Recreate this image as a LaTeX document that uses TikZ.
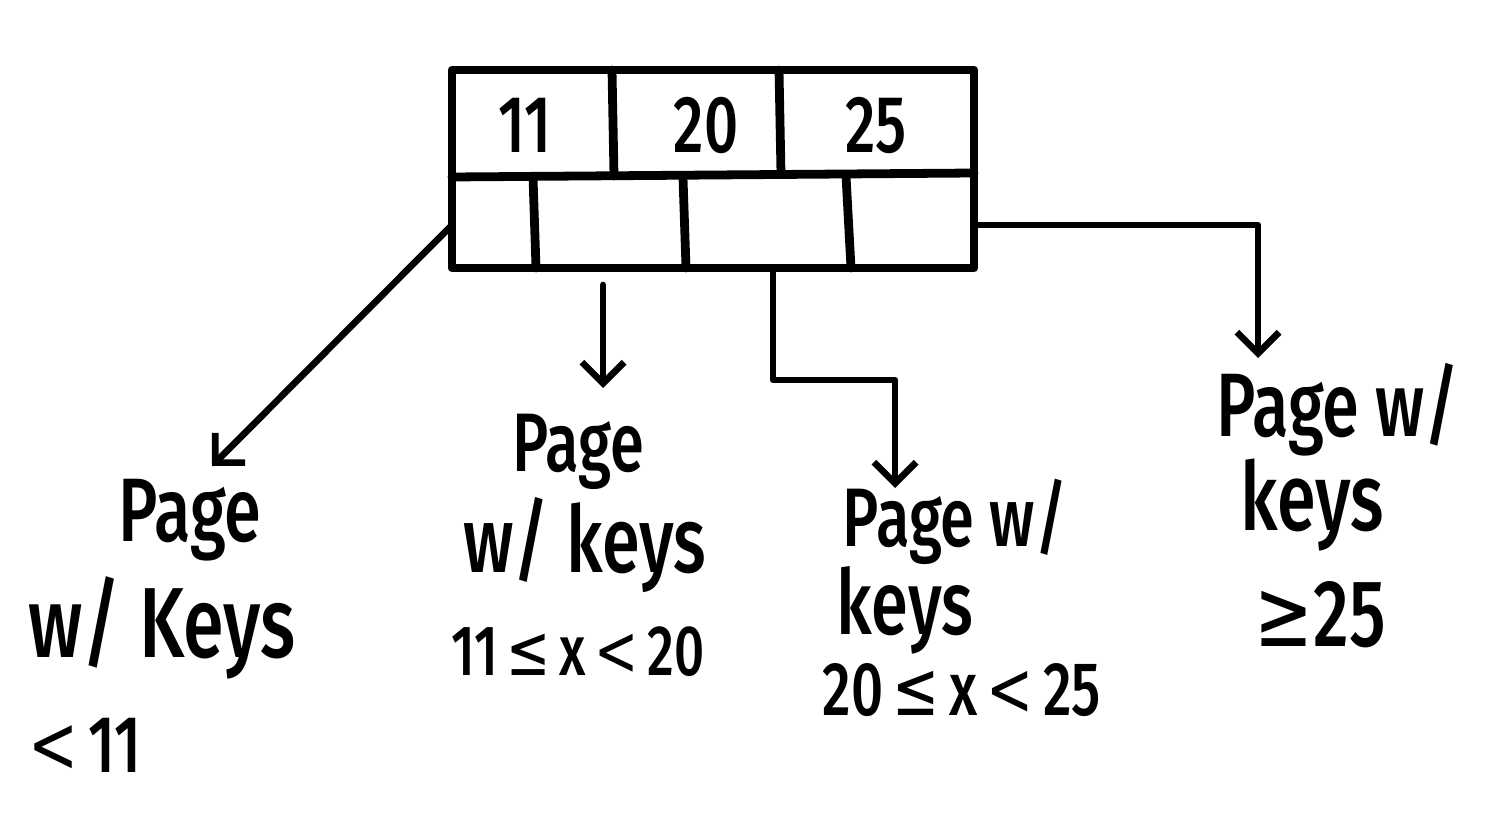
\documentclass[tikz,border=0pt]{standalone}
\usepackage{graphicx}
\usepackage{fontspec}
\setmainfont{Fira Sans}[UprightFont=* Medium]
\newfontfamily\symf{DejaVu Sans}
\usetikzlibrary{arrows.meta}
\newcommand\hand[2]{\fontsize{#1}{#1}\selectfont\scalebox{1}[1.35]{#2}}
\tikzset{
  boxline/.style={line width=5pt, line cap=round, line join=round},
  link/.style={line width=3.8pt, line cap=round, line join=round,
    -{Straight Barb[length=12pt, width=24pt, line width=3.8pt]}},
  lbl/.style={inner sep=0pt, text=black}
}
\begin{document}
\begin{tikzpicture}[x=0.02cm, y=-0.02cm]
\useasboundingbox (0,0) rectangle (1496,831);
% key box
\node[boxline, draw, minimum width=10.44cm, minimum height=3.96cm, inner sep=0pt] (box) at (713,169) {};
\coordinate (ml) at (452,177);
\coordinate (mr) at (974,173);
\draw[boxline] (ml) -- (mr);
\coordinate (t1a) at (612,70);  \coordinate (t1b) at (614,176);
\coordinate (t2a) at (779,70);  \coordinate (t2b) at (781,174);
\draw[boxline] (t1a) -- (t1b);
\draw[boxline] (t2a) -- (t2b);
\coordinate (b1a) at (533,177); \coordinate (b1b) at (536,268);
\coordinate (b2a) at (683,178); \coordinate (b2b) at (686,268);
\coordinate (b3a) at (846,176); \coordinate (b3b) at (851,268);
\draw[boxline] (b1a) -- (b1b);
\draw[boxline] (b2a) -- (b2b);
\draw[boxline] (b3a) -- (b3b);
% keys
\node[lbl] (k11) at (525,125) {\hand{34}{11}};
\node[lbl] (k20) at (706,125) {\hand{34}{20}};
\node[lbl] (k25) at (876,125) {\hand{34}{25}};
% labels: child 1
\node[lbl] (l1a) at (190,520) {\hand{38}{Page}};
\node[lbl] (l1b) at (162,628) {\hand{42}{w/ Keys}};
\node[lbl] (l1c) at (85,745) {\hand{34}{{\symf <}\,11}};
% child 2
\node[lbl] (l2a) at (578,452) {\hand{35}{Page}};
\node[lbl] (l2b) at (585,545) {\hand{39}{w/ keys}};
\node[lbl] (l2c) at (578,652) {\hand{30}{11\,{\symf ≤}\,x\,{\symf <}\,20}};
% child 3
\node[lbl] (l3a) at (955,522) {\hand{35}{Page w/}};
\node[lbl] (l3b) at (905,610) {\hand{38}{keys}};
\node[lbl] (l3c) at (962,690) {\hand{32}{20\,{\symf ≤}\,x\,{\symf <}\,25}};
% child 4
\node[lbl] (l4a) at (1338,410) {\hand{38}{Page w/}};
\node[lbl] (l4b) at (1312,505) {\hand{40}{keys}};
\node[lbl] (l4c) at (1320,615) {\hand{40}{{\symf ≥}25}};
% connectors
\coordinate (p0) at (452,225);
\coordinate (e0) at (212,466);
\draw[link] (p0) -- (e0);
\coordinate (p1) at (603,285);
\coordinate (e1) at (603,388);
\draw[link] (p1) -- (e1);
\coordinate (p2) at (773,268);
\coordinate (e2) at (895,488);
\draw[link] (p2) |- (836,380) -| (e2);
\coordinate (p3) at (974,225);
\coordinate (e3) at (1258,358);
\draw[link] (p3) -| (e3);
\end{tikzpicture}
\end{document}
